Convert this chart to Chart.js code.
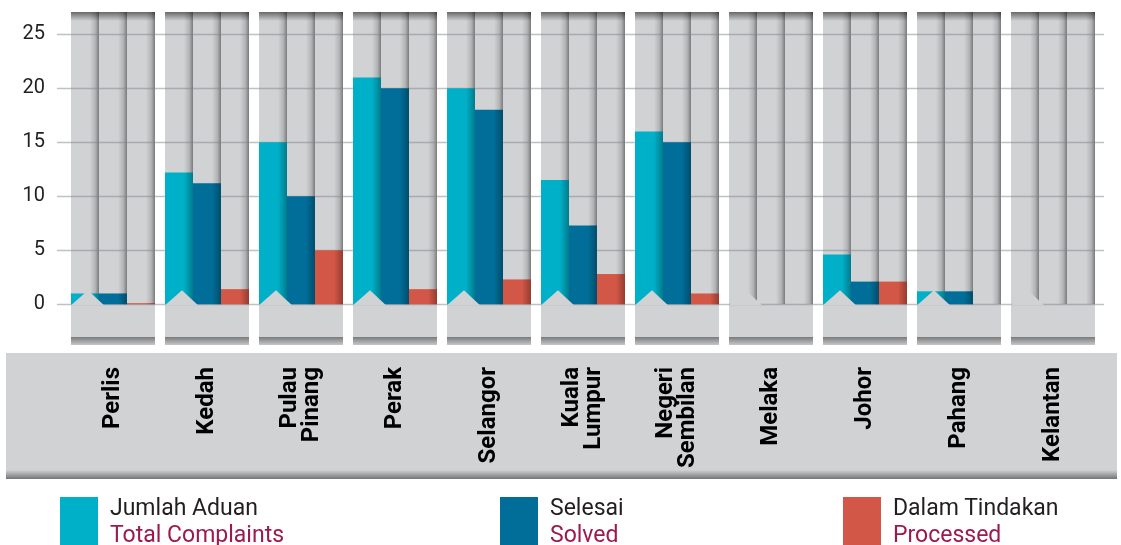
<!DOCTYPE html>
<html>
<head>
<meta charset="utf-8">
<script src="https://cdn.jsdelivr.net/npm/chart.js@4.4.1/dist/chart.umd.min.js"></script>
<style>
  html, body { margin: 0; padding: 0; background: #fff; }
  #wrap { position: relative; width: 1121px; height: 545px; overflow: hidden; }
  #chart { position: absolute; left: 0; top: 0; }
  .key { position: absolute; top: 497px; font-family: Roboto, sans-serif; font-size: 23px; line-height: 27px; }
  .key .sw { position: absolute; left: 0; top: 0; width: 38px; height: 60px; }
  .key .txt { position: absolute; left: 50px; top: -3px; white-space: nowrap; color: #231f20; }
  .key .en { color: #9c1a4e; }
</style>
</head>
<body>
<div id="wrap">
  <canvas id="chart" width="1121" height="545"></canvas>
  <div id="legend"></div>
</div>
<script>
// categories (multi-line labels as arrays)
const states = ['Perlis', 'Kedah', ['Pulau', 'Pinang'], 'Perak', 'Selangor', ['Kuala', 'Lumpur'],
  ['Negeri', 'Sembilan'], 'Melaka', 'Johor', 'Pahang', 'Kelantan'];

// series values
const totalComplaints = [1, 12.2, 15, 21, 20, 11.5, 16, 0, 4.6, 1.2, 0];
const solved          = [1, 11.2, 10, 20, 18, 7.3, 15, 0, 2.1, 1.2, 0];
const processed       = [0.1, 1.4, 5, 1.4, 2.3, 2.8, 1, 0, 2.1, 0, 0];

const yTicks = [0, 5, 10, 15, 20, 25];

const seriesNames = [
  ['Jumlah Aduan', 'Total Complaints'],
  ['Selesai', 'Solved'],
  ['Dalam Tindakan', 'Processed']
];
const colors = ['#00b0c8', '#006e99', '#d35746'];
const legendLeft = [60, 500, 843];

const panelGray = '#d1d2d4';
const catPct = 84 / 94;

// grey panels, grid, band behind the state names, bar shading
const decor = {
  id: 'decor',
  beforeDraw(chart) {
    const { ctx, chartArea } = chart;
    const top = chartArea.bottom + 8, h = 126;
    ctx.save();
    ctx.fillStyle = panelGray;
    ctx.fillRect(6, top, 1111, h);
    const g = ctx.createLinearGradient(0, top + h - 9, 0, top + h);
    g.addColorStop(0, 'rgba(0,0,0,0)');
    g.addColorStop(1, 'rgba(0,0,0,0.45)');
    ctx.fillStyle = g;
    ctx.fillRect(6, top + h - 9, 1111, 9);
    ctx.restore();
  },
  beforeDatasetsDraw(chart) {
    const { ctx, chartArea, scales: { x, y } } = chart;
    const zero = y.getPixelForValue(0);
    const panelW = (x.width / states.length) * catPct;
    const colW = panelW / 3;
    ctx.save();
    states.forEach((s, i) => {
      const left = x.getPixelForValue(i) - panelW / 2;
      ctx.fillStyle = panelGray;
      ctx.fillRect(left, chartArea.top, panelW, chartArea.bottom - chartArea.top);
      // column shading on the right edge of each column
      for (let c = 0; c < 3; c++) {
        const r = left + colW * (c + 1);
        const g = ctx.createLinearGradient(r - 9, 0, r, 0);
        g.addColorStop(0, 'rgba(0,0,0,0)');
        g.addColorStop(0.6, 'rgba(0,0,0,0.15)');
        g.addColorStop(1, 'rgba(0,0,0,0.42)');
        ctx.fillStyle = g;
        ctx.fillRect(r - 9, chartArea.top, 9, zero - chartArea.top);
      }
      // top dark edge
      const gt = ctx.createLinearGradient(0, chartArea.top, 0, chartArea.top + 9);
      gt.addColorStop(0, 'rgba(0,0,0,0.5)');
      gt.addColorStop(1, 'rgba(0,0,0,0)');
      ctx.fillStyle = gt;
      ctx.fillRect(left, chartArea.top, panelW, 9);
      // lower plain part
      ctx.fillStyle = panelGray;
      ctx.fillRect(left, zero, panelW, chartArea.bottom - zero);
      // bottom dark edge
      const gb = ctx.createLinearGradient(0, chartArea.bottom - 8, 0, chartArea.bottom);
      gb.addColorStop(0, 'rgba(0,0,0,0.42)');
      gb.addColorStop(1, 'rgba(0,0,0,0.05)');
      ctx.fillStyle = gb;
      ctx.fillRect(left, chartArea.bottom - 8, panelW, 8);
    });
    // grid lines
    ctx.strokeStyle = 'rgba(130,131,135,0.5)';
    ctx.lineWidth = 1.5;
    yTicks.forEach(v => {
      const py = Math.round(y.getPixelForValue(v)) + 0.5;
      ctx.beginPath();
      ctx.moveTo(chartArea.left - 9, py);
      ctx.lineTo(chartArea.right + 4, py);
      ctx.stroke();
    });
    ctx.restore();
  },
  afterDatasetsDraw(chart) {
    const { ctx, chartArea, scales: { x, y } } = chart;
    const zero = y.getPixelForValue(0);
    const panelW = (x.width / states.length) * catPct;
    ctx.save();
    chart.data.datasets.forEach((ds, di) => {
      chart.getDatasetMeta(di).data.forEach(bar => {
        const r = bar.x + bar.width / 2;
        const g = ctx.createLinearGradient(r - 9, 0, r, 0);
        g.addColorStop(0, 'rgba(0,0,0,0)');
        g.addColorStop(1, 'rgba(0,0,0,0.3)');
        ctx.fillStyle = g;
        ctx.fillRect(r - 9, Math.min(bar.y, bar.base), 9, Math.abs(bar.base - bar.y));
      });
    });
    // little peak on the first column of each panel
    ctx.fillStyle = panelGray;
    states.forEach((s, i) => {
      const left = x.getPixelForValue(i) - panelW / 2;
      ctx.beginPath();
      ctx.moveTo(left, zero + 1);
      ctx.lineTo(left + 17, zero - 14);
      ctx.lineTo(left + 33, zero + 1);
      ctx.closePath();
      ctx.fill();
    });
    // state names, rotated, ending near the top of the band
    ctx.fillStyle = '#000';
    ctx.font = 'bold 24px Roboto';
    ctx.textAlign = 'right';
    ctx.textBaseline = 'middle';
    const lineGap = 22;
    states.forEach((s, i) => {
      const lines = Array.isArray(s) ? s : [s];
      const cx = x.getPixelForValue(i);
      lines.forEach((t, j) => {
        const off = (j - (lines.length - 1) / 2) * lineGap;
        ctx.save();
        ctx.translate(cx + off, chartArea.bottom + 22);
        ctx.rotate(-Math.PI / 2);
        ctx.fillText(t, 0, 0);
        ctx.restore();
      });
    });
    ctx.restore();
  }
};

new Chart(document.getElementById('chart'), {
  type: 'bar',
  data: {
    labels: states,
    datasets: [totalComplaints, solved, processed].map((d, i) => ({
      label: seriesNames[i][0],
      data: d,
      backgroundColor: colors[i],
      borderWidth: 0,
      categoryPercentage: catPct,
      barPercentage: 1
    }))
  },
  options: {
    responsive: false,
    animation: false,
    devicePixelRatio: 1,
    layout: { autoPadding: false, padding: { top: 12, right: 21, left: 0, bottom: 0 } },
    plugins: { legend: { display: false }, tooltip: { enabled: false } },
    scales: {
      x: {
        grid: { display: false, drawTicks: false },
        border: { display: false },
        afterFit(s) { s.height = 200; s.paddingLeft = 0; s.paddingRight = 0; },
        ticks: { display: false }
      },
      y: {
        min: -3.77,
        max: 27.06,
        grid: { display: false, drawTicks: false },
        border: { display: false },
        afterFit(s) { s.width = 66; s.paddingTop = 0; s.paddingBottom = 0; },
        afterBuildTicks(s) { s.ticks = yTicks.map(v => ({ value: v })); },
        ticks: {
          padding: 21,
          color: '#231f20',
          font: { family: 'Roboto', size: 20 }
        }
      }
    }
  },
  plugins: [decor]
});

// two-line legend below the chart
const legend = document.getElementById('legend');
seriesNames.forEach((n, i) => {
  const el = document.createElement('div');
  el.className = 'key';
  el.style.left = legendLeft[i] + 'px';
  el.innerHTML = `<div class="sw" style="background:${colors[i]}"></div>
    <div class="txt">${n[0]}<br><span class="en">${n[1]}</span></div>`;
  legend.appendChild(el);
});
</script>
</body>
</html>
